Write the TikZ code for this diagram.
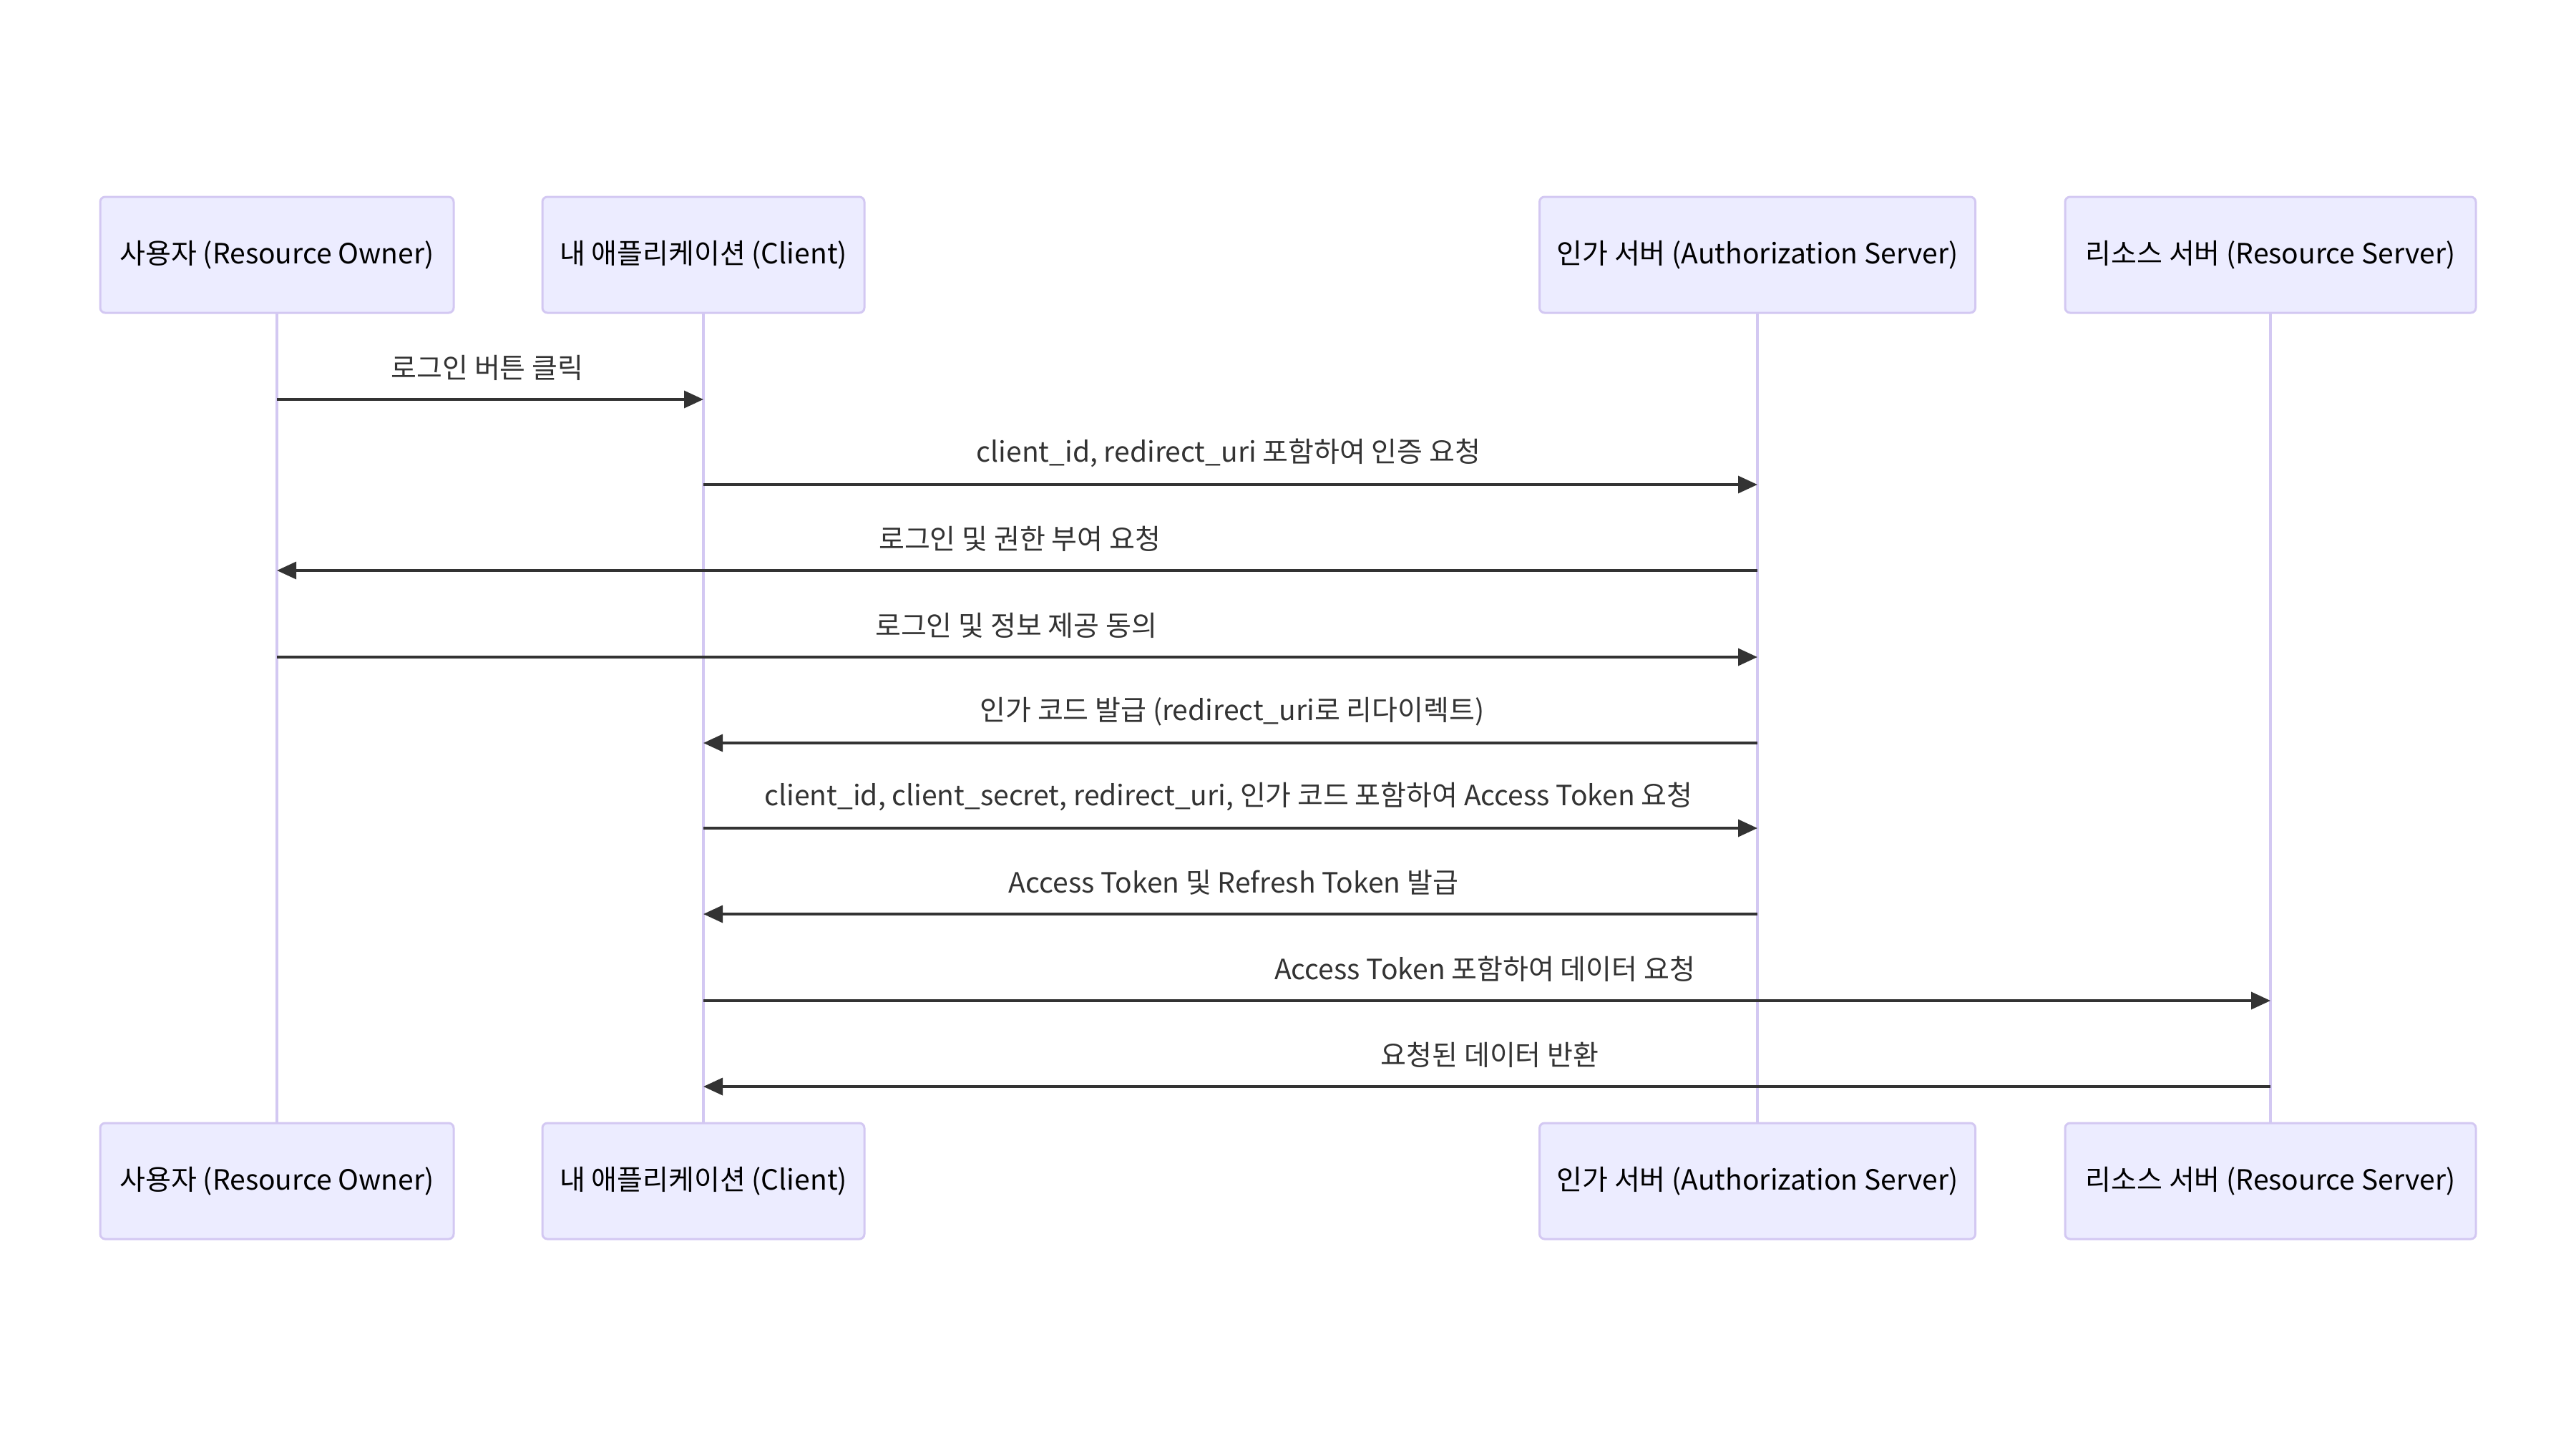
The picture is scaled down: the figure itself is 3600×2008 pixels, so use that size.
\documentclass[tikz,border=0pt]{standalone}
\usepackage{fontspec}
\setmainfont{Noto Sans CJK KR}
\usetikzlibrary{arrows.meta}
\definecolor{actfill}{HTML}{ECECFF}
\definecolor{actdraw}{HTML}{D3C8F2}
\definecolor{msgcol}{HTML}{333333}
\tikzset{
  actor/.style={draw=actdraw, fill=actfill, line width=3pt, rounded corners=7pt,
    minimum height=162pt, inner sep=0pt, font=\fontsize{39}{46}\selectfont, text=black},
  life/.style={draw=actdraw, line width=3.5pt},
  msg/.style={draw=msgcol, line width=3.5pt, -{Triangle[length=27pt,width=24pt]}},
  lbl/.style={font=\fontsize{39}{46}\selectfont, text=msgcol, inner sep=0pt}
}
\begin{document}
\begin{tikzpicture}[x=1pt,y=-1pt]
\useasboundingbox (0,0) rectangle (3600,2008);
% lifelines
\coordinate (l1t) at (387,437); \coordinate (l1b) at (387,1568);
\coordinate (l2t) at (983,437); \coordinate (l2b) at (983,1568);
\coordinate (l3t) at (2456,437); \coordinate (l3b) at (2456,1568);
\coordinate (l4t) at (3173,437); \coordinate (l4b) at (3173,1568);
\draw[life] (l1t) -- (l1b);
\draw[life] (l2t) -- (l2b);
\draw[life] (l3t) -- (l3b);
\draw[life] (l4t) -- (l4b);
% actors top
\node[actor, minimum width=494pt] (a1) at (387,356) {\raisebox{-2pt}{사용자 (Resource Owner)}};
\node[actor, minimum width=450pt] (a2) at (983,356) {\raisebox{-2pt}{내 애플리케이션 (Client)}};
\node[actor, minimum width=609pt] (a3) at (2456,356) {\raisebox{-2pt}{인가 서버 (Authorization Server)}};
\node[actor, minimum width=574pt] (a4) at (3173,356) {\raisebox{-2pt}{리소스 서버 (Resource Server)}};
% actors bottom
\node[actor, minimum width=494pt] (b1) at (387,1650) {\raisebox{-2pt}{사용자 (Resource Owner)}};
\node[actor, minimum width=450pt] (b2) at (983,1650) {\raisebox{-2pt}{내 애플리케이션 (Client)}};
\node[actor, minimum width=609pt] (b3) at (2456,1650) {\raisebox{-2pt}{인가 서버 (Authorization Server)}};
\node[actor, minimum width=574pt] (b4) at (3173,1650) {\raisebox{-2pt}{리소스 서버 (Resource Server)}};
% message endpoints
\foreach \i/\y in {1/558,2/677,3/797,4/918,5/1038,6/1157,7/1277,8/1398,9/1518}{
  \coordinate (p1m\i) at (387,\y);
  \coordinate (p2m\i) at (983,\y);
  \coordinate (p3m\i) at (2456,\y);
  \coordinate (p4m\i) at (3173,\y);
}
\draw[msg] (p1m1) -- (p2m1);
\node[lbl] (t1) at (681,514) {로그인 버튼 클릭};
\draw[msg] (p2m2) -- (p3m2);
\node[lbl] (t2) at (1717,633) {client\_id, redirect\_uri 포함하여 인증 요청};
\draw[msg] (p3m3) -- (p1m3);
\node[lbl] (t3) at (1425,753) {로그인 및 권한 부여 요청};
\draw[msg] (p1m4) -- (p3m4);
\node[lbl] (t4) at (1420,874) {로그인 및 정보 제공 동의};
\draw[msg] (p3m5) -- (p2m5);
\node[lbl] (t5) at (1722,994) {인가 코드 발급 (redirect\_uri로 리다이렉트)};
\draw[msg] (p2m6) -- (p3m6);
\node[lbl] (t6) at (1717,1113) {client\_id, client\_secret, redirect\_uri, 인가 코드 포함하여 Access Token 요청};
\draw[msg] (p3m7) -- (p2m7);
\node[lbl] (t7) at (1724,1233) {Access Token 및 Refresh Token 발급};
\draw[msg] (p2m8) -- (p4m8);
\node[lbl] (t8) at (2075,1354) {Access Token 포함하여 데이터 요청};
\draw[msg] (p4m9) -- (p2m9);
\node[lbl] (t9) at (2082,1474) {요청된 데이터 반환};
\end{tikzpicture}
\end{document}
